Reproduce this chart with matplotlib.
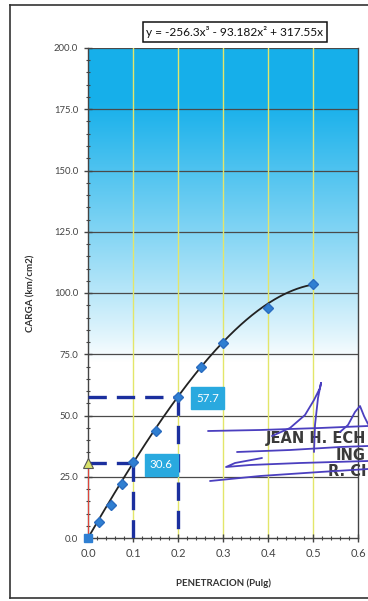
import numpy as np
import matplotlib
matplotlib.use("Agg")
import matplotlib.pyplot as plt
from matplotlib.lines import Line2D

# ---- data ----
penetracion = [0.0, 0.025, 0.05, 0.075, 0.1, 0.15, 0.2, 0.25, 0.3, 0.4, 0.5]
carga = [0.0, 6.5, 13.5, 21.9, 30.9, 43.7, 57.7, 69.9, 79.5, 93.7, 103.5]
coef = [-256.3, -93.182, 317.55, 0.0]          # trendline y = a x^3 + b x^2 + c x
equation = "y = -256.3x³ - 93.182x² + 317.55x"
x_01, y_01 = 0.1, 30.6
x_02, y_02 = 0.2, 57.7
xticks = [0.0, 0.1, 0.2, 0.3, 0.4, 0.5, 0.6]
yticks = [0.0, 25.0, 50.0, 75.0, 100.0, 125.0, 150.0, 175.0, 200.0]
stamp_lines = ["JEAN H. ECH", "ING", "R. CI"]

plt.rcParams['font.family'] = ['Lato', 'DejaVu Sans']

W, H = 368, 601
fig = plt.figure(figsize=(W / 100, H / 100), dpi=100)
fig.patch.set_facecolor('white')

def fx(px):
    return px / W

def fy(py):
    return 1 - py / H

ax = fig.add_axes([fx(88), fy(538), fx(358) - fx(88), fy(48) - fy(538)])
ax.set_xlim(0, 0.6)
ax.set_ylim(0, 200)

# gradient background
vals = np.linspace(0, 200, 400)
t = np.clip((vals - 72) / (178 - 72), 0, 1) ** 0.9
top = np.array([0.09, 0.69, 0.92])
rows = (1 - t)[:, None] * np.ones(3) + t[:, None] * top
img = np.repeat(rows[:, None, :], 2, axis=1)
ax.imshow(img, extent=[0, 0.6, 0, 200], origin='lower', aspect='auto', zorder=0,
          interpolation='bilinear')

# grid lines
for yv in yticks[1:]:
    ax.axhline(yv, color='#4a4a4a', lw=0.9, zorder=1)
for xv in xticks[1:-1]:
    ax.axvline(xv, color='#e3e66a', lw=1.0, zorder=1)

for s in ax.spines.values():
    s.set_color('#444444')
    s.set_linewidth(1.0)
ax.spines['top'].set_visible(False)

ax.set_xticks(xticks)
ax.set_yticks(yticks)
ax.set_xticks(np.arange(0, 0.6001, 0.02), minor=True)
ax.set_yticks(np.arange(0, 200.01, 5), minor=True)
ax.set_xticklabels([f"{v:.1f}" for v in xticks])
ax.set_yticklabels([f"{v:.1f}" for v in yticks])
ax.tick_params(axis='x', which='major', direction='inout', length=6, width=1, color='#444444',
               labelsize=8, labelcolor='#444444', pad=4)
ax.tick_params(axis='y', which='major', direction='inout', length=6, width=1, color='#444444',
               labelsize=6.8, labelcolor='#444444', pad=4)
ax.tick_params(which='minor', direction='inout', length=3, width=0.8, color='#444444')

# reference dashed lines
dash = dict(color='#1b2f9e', lw=2.4, dashes=(5.5, 3), zorder=3, solid_capstyle='butt')
ax.plot([0, x_02], [y_02, y_02], **dash)
ax.plot([x_02, x_02], [y_02, 0], **dash)
ax.plot([0, x_01], [y_01, y_01], **dash)
ax.plot([x_01, x_01], [y_01, 0], **dash)

# red start line with triangle
ax.plot([0, 0], [0, y_01], color='#e0453a', lw=1.5, zorder=4)
ax.plot([0], [y_01], marker='^', ms=7, mfc='#d8e26a', mec='#555555', mew=0.8, zorder=6, clip_on=False)

# trendline
xs = np.linspace(0, penetracion[-1], 200)
ax.plot(xs, np.polyval(coef, xs), color='#222222', lw=1.3, zorder=4)

# data points
ax.plot(penetracion[1:], carga[1:], ls='none', marker='D', ms=5.3, mfc='#2f7fd2', mec='#2a6cc0',
        zorder=5, clip_on=False)
ax.plot([0], [0], ls='none', marker='s', ms=6, mfc='#2f7fd2', mec='#2f7fd2', zorder=6, clip_on=False)

# value labels
lab = dict(color='white', fontsize=8.3, ha='center', va='center', zorder=7,
           bbox=dict(boxstyle='square,pad=0.45', fc='#29a9df', ec='#29a9df'))
ax.text(x_02 + 0.065, y_02 - 0.6, f"{y_02:.1f}", **lab)
ax.text(x_01 + 0.063, y_01 - 0.8, f"{y_01:.1f}", **lab)

ax.set_xlabel("PENETRACION (Pulg)", fontsize=7, fontweight='bold', color='#333333', labelpad=14)
ax.set_ylabel("CARGA (km/cm2)", fontsize=7, fontweight='bold', color='#333333', labelpad=13)

# equation box
fig.text(fx(235), fy(32), equation, fontsize=8.6, ha='center', va='center', color='#111111',
         bbox=dict(boxstyle='square,pad=0.3', fc='white', ec='#111111', lw=1.1))

# outer frame
fig.add_artist(Line2D([fx(10), fx(10)], [fy(5), fy(598)], color='#333333', lw=1.2))
fig.add_artist(Line2D([fx(10), fx(370)], [fy(5), fy(5)], color='#333333', lw=1.2))
fig.add_artist(Line2D([fx(10), fx(370)], [fy(598), fy(598)], color='#333333', lw=1.2))

# stamp and signature
stamp = dict(fontsize=10.5, fontweight='bold', color='#3a3a3a',
             family=['Liberation Sans Narrow', 'DejaVu Sans'], zorder=8, ha='right', va='center')
fig.text(fx(366), fy(438), stamp_lines[0], **stamp)
fig.text(fx(366), fy(455), stamp_lines[1], **stamp)
fig.text(fx(366), fy(472), stamp_lines[2], **stamp)
sig = '#4b3fbf'
strokes = [
    ([208, 260, 320, 368], [431, 430, 428, 426]),
    ([237, 290, 340, 368], [452, 450, 447, 446]),
    ([262, 235, 226, 250, 300, 368], [458, 463, 467, 465, 463, 461]),
    ([210, 260, 320, 368], [481, 476, 472, 469]),
    ([272, 290, 305, 314, 320, 321, 318, 315, 314], [436, 428, 415, 400, 388, 383, 398, 425, 452]),
    ([340, 348, 355, 360, 364, 368], [432, 425, 412, 406, 416, 424]),
]
for sx, sy in strokes:
    fig.add_artist(Line2D([fx(v) for v in sx], [fy(v) for v in sy], color=sig, lw=1.3, zorder=9,
                          solid_capstyle='round', solid_joinstyle='round'))

fig.savefig("out.png", dpi=100)
